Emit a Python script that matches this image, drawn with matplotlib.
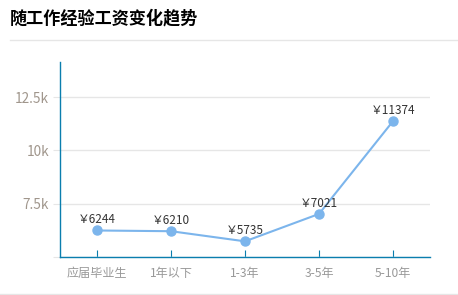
import matplotlib.pyplot as plt
from matplotlib.ticker import FuncFormatter

plt.rcParams['font.family'] = ['Noto Sans CJK SC', 'DejaVu Sans']

categories = ['应届毕业生', '1年以下', '1-3年', '3-5年', '5-10年']
salary = [6244, 6210, 5735, 7021, 11374]
y_ticks = [7500, 10000, 12500]
title = '随工作经验工资变化趋势'

fig = plt.figure(figsize=(4.58, 2.95), dpi=100)
fig.patch.set_facecolor('white')

# title and separator lines
fig.text(10 / 458, 1 - 18 / 295, title, fontsize=12.3, fontweight='bold',
         color='black', va='center', ha='left')
fig.add_artist(plt.Line2D([10 / 458, 1], [1 - 40 / 295] * 2, color='#e6e6e6', lw=1))
fig.add_artist(plt.Line2D([0, 1], [1 - 294 / 295] * 2, color='#e6e6e6', lw=1))

ax = fig.add_axes([60 / 458, 38 / 295, 370 / 458, 195 / 295])
x = range(len(categories))
ax.plot(x, salary, color='#7cb5ec', lw=1.5, marker='o', markersize=6.5, zorder=3, clip_on=False)
for xi, v in zip(x, salary):
    ax.annotate('￥' + str(v), (xi, v), xytext=(0, 3), textcoords='offset points',
                ha='center', va='bottom', fontsize=8.5, color='#333333')

ax.set_xlim(-0.5, 4.5)
ax.set_ylim(5000, 14150)
ax.set_xticks(list(x))
ax.set_xticklabels(categories)
ax.set_yticks([5000] + y_ticks)
ax.yaxis.set_major_formatter(FuncFormatter(lambda v, p: '' if v == 5000 else ('%gk' % (v / 1000))))
ax.grid(axis='y', color='#e6e6e6', lw=1)
ax.set_axisbelow(True)

for s in ['top', 'right']:
    ax.spines[s].set_visible(False)
ax.spines['left'].set_color('#0a7eae')
ax.spines['bottom'].set_color('#0a7eae')
ax.spines['left'].set_linewidth(1)
ax.spines['bottom'].set_linewidth(1)

ax.tick_params(axis='x', direction='in', length=5, color='#0a7eae', labelcolor='#999999',
               labelsize=8.7, pad=7)
ax.tick_params(axis='y', direction='out', length=5, color='#e6e6e6', labelcolor='#a0968c',
               labelsize=9.8, pad=3)

plt.savefig('out.png', dpi=100)
